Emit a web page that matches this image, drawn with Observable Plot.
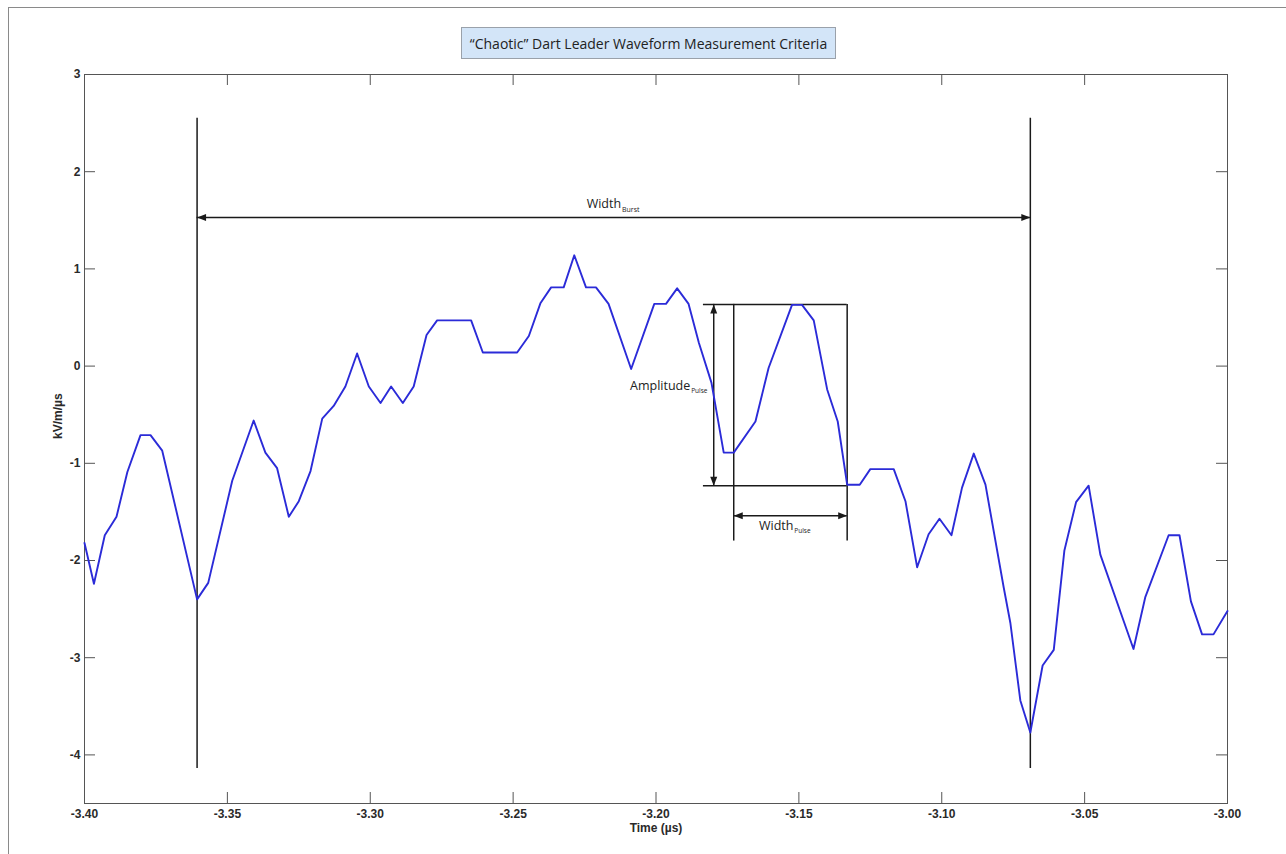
<!DOCTYPE html>
<html>
<head>
<meta charset="utf-8">
<script src="https://cdn.jsdelivr.net/npm/d3@7"></script>
<script src="https://cdn.jsdelivr.net/npm/@observablehq/plot@0.6"></script>
<style>
  html, body { margin: 0; padding: 0; background: #fff; overflow: hidden; }
  #wrap { position: relative; width: 1286px; height: 854px; }
  #border { position: absolute; left: 8px; top: 7px; width: 1300px; height: 900px;
            border-left: 1.5px solid #8a8a8a; border-top: 1.5px solid #8a8a8a; pointer-events: none; }
  #title { position: absolute; left: 461px; top: 27px; width: 375px; height: 32px; box-sizing: border-box;
           background: #d3e5f8; border: 1px solid #9aa1aa; display: flex; align-items: center; justify-content: center;
           font-family: "Open Sans", sans-serif; font-size: 14px; color: #222; }
</style>
</head>
<body>
<div id="wrap">
  <div id="chart"></div>
  <div id="title">“Chaotic” Dart Leader Waveform Measurement Criteria</div>
  <div id="border"></div>
</div>
<script>
// Electric field change record (kV/m/µs) versus time (µs)
const time = [-3.4000,-3.3967,-3.3929,-3.3888,-3.3850,-3.3804,-3.3769,-3.3728,-3.3606,-3.3567,
  -3.3483,-3.3408,-3.3367,-3.3326,-3.3285,-3.3250,-3.3209,-3.3168,-3.3128,-3.3087,
  -3.3046,-3.3005,-3.2964,-3.2927,-3.2886,-3.2848,-3.2803,-3.2766,-3.2647,-3.2606,
  -3.2486,-3.2445,-3.2404,-3.2367,-3.2323,-3.2286,-3.2245,-3.2210,-3.2166,-3.2087,
  -3.2006,-3.1965,-3.1926,-3.1886,-3.1850,-3.1806,-3.1763,-3.1728,-3.1652,-3.1606,
  -3.1524,-3.1489,-3.1448,-3.1401,-3.1364,-3.1331,-3.1287,-3.1250,-3.1168,-3.1127,
  -3.1086,-3.1046,-3.1008,-3.0966,-3.0929,-3.0888,-3.0847,-3.0783,-3.0760,-3.0725,
  -3.0690,-3.0647,-3.0608,-3.0571,-3.0530,-3.0486,-3.0445,-3.0329,-3.0288,-3.0206,
  -3.0168,-3.0128,-3.0089,-3.0049,-3.0000];
const field = [-1.82,-2.24,-1.74,-1.55,-1.09,-0.71,-0.71,-0.87,-2.40,-2.23,
  -1.18,-0.56,-0.89,-1.05,-1.55,-1.39,-1.08,-0.54,-0.41,-0.21,
  0.13,-0.21,-0.38,-0.21,-0.38,-0.21,0.32,0.47,0.47,0.14,
  0.14,0.31,0.65,0.81,0.81,1.14,0.81,0.81,0.64,-0.03,
  0.64,0.64,0.80,0.64,0.24,-0.17,-0.89,-0.89,-0.57,-0.02,
  0.63,0.63,0.47,-0.24,-0.57,-1.22,-1.22,-1.06,-1.06,-1.39,
  -2.07,-1.73,-1.57,-1.74,-1.25,-0.90,-1.22,-2.28,-2.64,-3.44,
  -3.77,-3.08,-2.92,-1.90,-1.40,-1.23,-1.94,-2.91,-2.38,-1.74,
  -1.74,-2.42,-2.76,-2.76,-2.52];

const xTicks = [-3.40, -3.35, -3.30, -3.25, -3.20, -3.15, -3.10, -3.05, -3.00];
const yTicks = [-4, -3, -2, -1, 0, 1, 2, 3];

// Measurement markers
const burstStart = -3.3606, burstEnd = -3.0690;     // burst limits (µs)
const burstLineTop = 2.55, burstLineBottom = -4.14;
const burstArrowLevel = 1.53;
const pulseStart = -3.1728, pulseEnd = -3.1331;     // pulse limits (µs)
const pulseTop = 0.635, pulseBottom = -1.23;          // pulse peak / trough
const pulseLineBottom = -1.80;
const pulseArrowLevel = -1.54;
const amplitudeX = -3.1798, boxLeft = -3.1834;

const wave = time.map((t, i) => ({t, v: field[i]}));

// Layout of the plotting box
const W = 1286, H = 854, mL = 84, mR = 59, mT = 74, mB = 51;
const innerW = W - mL - mR, innerH = H - mT - mB;
const tickLen = 11;

// Filled arrowheads with the tip at the origin
const tri = (pts) => ({draw(ctx) { ctx.moveTo(0, 0); ctx.lineTo(...pts[0]); ctx.lineTo(...pts[1]); ctx.closePath(); }});
const headRight = tri([[-9, -3.5], [-9, 3.5]]);
const headLeft  = tri([[9, -3.5], [9, 3.5]]);
const headUp    = tri([[-3.5, 9], [3.5, 9]]);
const headDown  = tri([[-3.5, -9], [3.5, -9]]);

const ink = "#1a1a1a";
const axisInk = "#555";
const annFont = "'Open Sans', sans-serif";

const chart = Plot.plot({
  width: W,
  height: H,
  marginLeft: mL,
  marginRight: mR,
  marginTop: mT,
  marginBottom: mB,
  style: {fontFamily: "'Liberation Sans', Arial, sans-serif", fontSize: "12px", color: "#222", background: "#fff"},
  x: {domain: [-3.40, -3.00], label: null},
  y: {domain: [-4.5, 3], label: null},
  marks: [
    Plot.frame({stroke: axisInk, strokeWidth: 1}),
    // inward ticks on all four sides
    Plot.tickX(xTicks, {x: d => d, insetTop: innerH - tickLen, stroke: axisInk}),
    Plot.tickX(xTicks, {x: d => d, insetBottom: innerH - tickLen, stroke: axisInk}),
    Plot.tickY(yTicks, {y: d => d, insetRight: innerW - tickLen, stroke: axisInk}),
    Plot.tickY(yTicks, {y: d => d, insetLeft: innerW - tickLen, stroke: axisInk}),
    // tick labels
    Plot.axisX({ticks: xTicks, anchor: "bottom", tickSize: 0, tickPadding: 6, tickFormat: d => d.toFixed(2), label: null, fontWeight: "bold", fill: "#2a2a2a"}),
    Plot.axisY({ticks: yTicks, anchor: "left", tickSize: 0, tickPadding: 4, tickFormat: d => String(d), label: null, fontWeight: "bold", fill: "#2a2a2a"}),
    Plot.text(["Time (µs)"], {frameAnchor: "bottom", dy: 28, fontSize: 12, fontWeight: "bold", fill: "#2a2a2a"}),
    Plot.text(["kV/m/µs"], {frameAnchor: "left", dx: -26, rotate: -90, fontSize: 12, fontWeight: "bold", fill: "#2a2a2a"}),

    // Burst width markers
    Plot.ruleX([burstStart, burstEnd], {y1: burstLineBottom, y2: burstLineTop, stroke: ink, strokeWidth: 1.5}),
    Plot.ruleY([burstArrowLevel], {x1: burstStart, x2: burstEnd, stroke: ink, strokeWidth: 1.5}),
    Plot.dot([{t: burstEnd, v: burstArrowLevel}, {t: pulseEnd, v: pulseArrowLevel}], {x: "t", y: "v", symbol: headRight, r: 4, fill: ink, stroke: null}),
    Plot.dot([{t: burstStart, v: burstArrowLevel}, {t: pulseStart, v: pulseArrowLevel}], {x: "t", y: "v", symbol: headLeft, r: 4, fill: ink, stroke: null}),
    Plot.text([{t: -3.2122, v: 1.665, s: "Width"}], {x: "t", y: "v", text: "s", textAnchor: "end", fontFamily: annFont, fontSize: 12.5, fill: "#222"}),
    Plot.text([{t: -3.2119, v: 1.665, s: "Burst"}], {x: "t", y: "v", text: "s", textAnchor: "start", dy: 5, fontFamily: annFont, fontSize: 7, fill: "#222"}),

    // Pulse box, amplitude and width markers
    Plot.ruleY([pulseTop, pulseBottom], {x1: boxLeft, x2: pulseEnd, stroke: ink, strokeWidth: 1.5}),
    Plot.ruleX([pulseStart, pulseEnd], {y1: pulseLineBottom, y2: pulseTop, stroke: ink, strokeWidth: 1.5}),
    Plot.ruleX([amplitudeX], {y1: pulseBottom, y2: pulseTop, stroke: ink, strokeWidth: 1.5}),
    Plot.dot([{t: amplitudeX, v: pulseTop}], {x: "t", y: "v", symbol: headUp, r: 4, fill: ink, stroke: null}),
    Plot.dot([{t: amplitudeX, v: pulseBottom}], {x: "t", y: "v", symbol: headDown, r: 4, fill: ink, stroke: null}),
    Plot.ruleY([pulseArrowLevel], {x1: pulseStart, x2: pulseEnd, stroke: ink, strokeWidth: 1.5}),
    Plot.text([{t: -3.1880, v: -0.205, s: "Amplitude"}], {x: "t", y: "v", text: "s", textAnchor: "end", fontFamily: annFont, fontSize: 12.5, fill: "#222"}),
    Plot.text([{t: -3.1877, v: -0.205, s: "Pulse"}], {x: "t", y: "v", text: "s", textAnchor: "start", dy: 5, fontFamily: annFont, fontSize: 6.5, fill: "#222"}),
    Plot.text([{t: -3.1519, v: -1.645, s: "Width"}], {x: "t", y: "v", text: "s", textAnchor: "end", fontFamily: annFont, fontSize: 12.5, fill: "#222"}),
    Plot.text([{t: -3.1516, v: -1.645, s: "Pulse"}], {x: "t", y: "v", text: "s", textAnchor: "start", dy: 5, fontFamily: annFont, fontSize: 6.5, fill: "#222"}),

    // Waveform
    Plot.line(wave, {x: "t", y: "v", stroke: "#2b2bd8", strokeWidth: 1.9, strokeLinejoin: "round"})
  ]
});
document.getElementById("chart").appendChild(chart);
</script>
</body>
</html>
